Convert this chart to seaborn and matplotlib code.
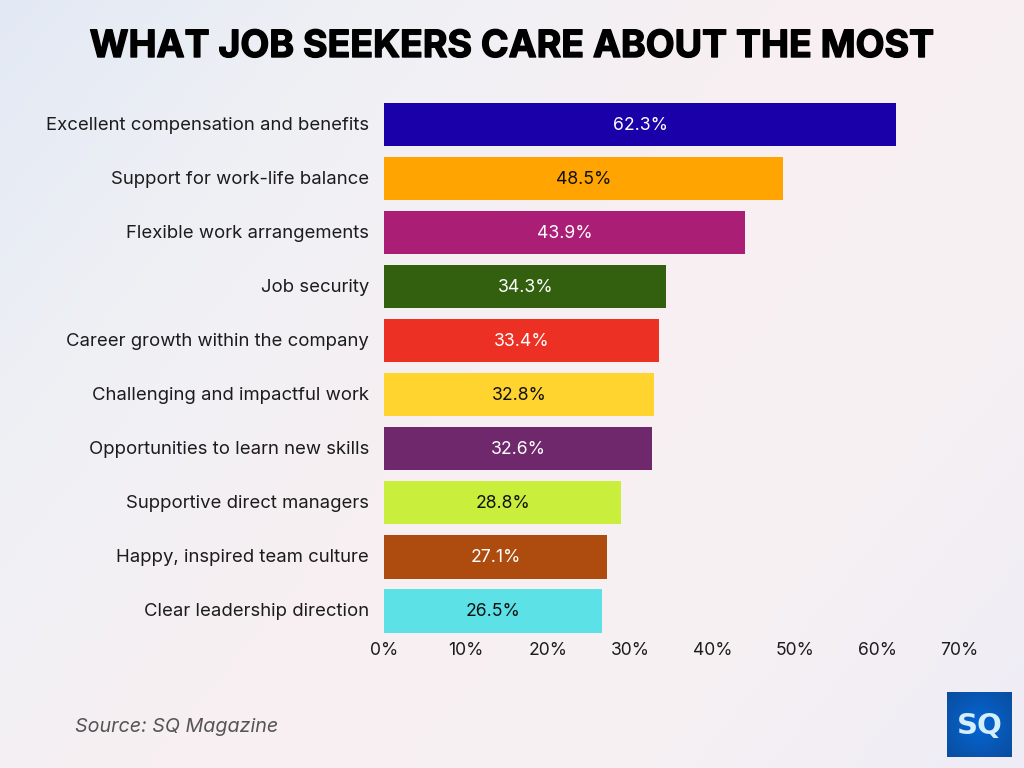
import numpy as np
import pandas as pd
import matplotlib
matplotlib.use("Agg")
import matplotlib.pyplot as plt
import matplotlib.patheffects as pe
from matplotlib.colors import LinearSegmentedColormap
from matplotlib.transforms import ScaledTranslation
import seaborn as sns

categories = ["Excellent compensation and benefits", "Support for work-life balance",
              "Flexible work arrangements", "Job security", "Career growth within the company",
              "Challenging and impactful work", "Opportunities to learn new skills",
              "Supportive direct managers", "Happy, inspired team culture", "Clear leadership direction"]
values = [62.3, 48.5, 43.9, 34.3, 33.4, 32.8, 32.6, 28.8, 27.1, 26.5]
colors = ["#1A00A8", "#FFA400", "#AB1E75", "#33600E", "#EC3023",
          "#FFD42F", "#70286C", "#C9EE3C", "#AD4C0E", "#5CE1E6"]
label_colors = ["white", "#111111", "white", "white", "white",
                "#111111", "white", "#111111", "white", "#111111"]
ticks = [0, 10, 20, 30, 40, 50, 60, 70]

sns.set_theme(style="white")
plt.rcParams["font.family"] = ["Inter", "DejaVu Sans"]

W, H = 1024, 768
fig = plt.figure(figsize=(W / 100, H / 100), dpi=100)

# background gradient
bg = fig.add_axes([0, 0, 1, 1], zorder=0)
yy, xx = np.mgrid[0:1:96j, 0:1:128j]
t = np.clip(xx * 0.62 + yy * 0.38, 0, 1)
cmap = LinearSegmentedColormap.from_list("bg", ["#E3E9F4", "#F0F1F5", "#F8EFF2", "#F7F1F3", "#EEECF6"])
bg.imshow(t, cmap=cmap, aspect="auto", extent=[0, 1, 0, 1], origin="upper", vmin=0, vmax=1)
bg.axis("off")

# main axes
left, right, top, bottom = 383.7, 959.7, 97.5, 638
ax = fig.add_axes([left / W, 1 - bottom / H, (right - left) / W, (bottom - top) / H], zorder=1)
ax.patch.set_alpha(0)
df = pd.DataFrame({"cat": categories, "val": values})
sns.barplot(data=df, y="cat", x="val", hue="cat", palette=colors, legend=False, dodge=False,
            width=0.8, saturation=1, linewidth=0, ax=ax, orient="h")
ax.set_xlim(0, 70)
ax.set_ylim(len(categories) - 0.5, -0.5)
ax.set_xlabel("")
ax.set_ylabel("")
ax.set_xticks(ticks)
ax.set_xticklabels([f"{v}%" for v in ticks], fontsize=12.6, color="#1c1c1c")
ax.tick_params(axis="x", length=0, pad=3.2)
ax.tick_params(axis="y", length=0, pad=10.6, labelsize=13.35, labelcolor="#1c1c1c")
shift = ScaledTranslation(0, 0.9 / 72, fig.dpi_scale_trans)
for lab in ax.get_yticklabels():
    lab.set_transform(lab.get_transform() + shift)
for s in ax.spines.values():
    s.set_visible(False)
for i, (v, c) in enumerate(zip(values, label_colors)):
    ax.annotate(f"{v}%", (v / 2, i), xytext=(0.5, -0.5), textcoords="offset points",
                ha="center", va="center", fontsize=12.7, color=c)

fig.text(512 / W, 1 - 47 / H, "WHAT JOB SEEKERS CARE ABOUT THE MOST", ha="center", va="center",
         fontsize=27, fontweight="bold", color="black",
         path_effects=[pe.withStroke(linewidth=1.0, foreground="black")])
fig.text(75 / W, 1 - 727 / H, "Source: SQ Magazine", ha="left", va="center",
         fontsize=14.2, style="italic", color="#555555")

# logo
logo = fig.add_axes([947 / W, 1 - 757 / H, 65 / W, 65 / H], zorder=2)
ly, lx = np.mgrid[-1:1:40j, -1:1:40j]
r = np.clip(np.sqrt(lx**2 + ly**2) / 1.4, 0, 1)
lc = LinearSegmentedColormap.from_list("logo", ["#0566D6", "#0A4E9E"])
logo.imshow(r, cmap=lc, extent=[0, 1, 0, 1], aspect="auto", vmin=0, vmax=1)
logo.text(0.5, 0.47, "SQ", ha="center", va="center", fontsize=21, fontweight="bold",
          color="#D5EEFB", family="DejaVu Sans")
logo.axis("off")

fig.savefig("out.png", dpi=100)
